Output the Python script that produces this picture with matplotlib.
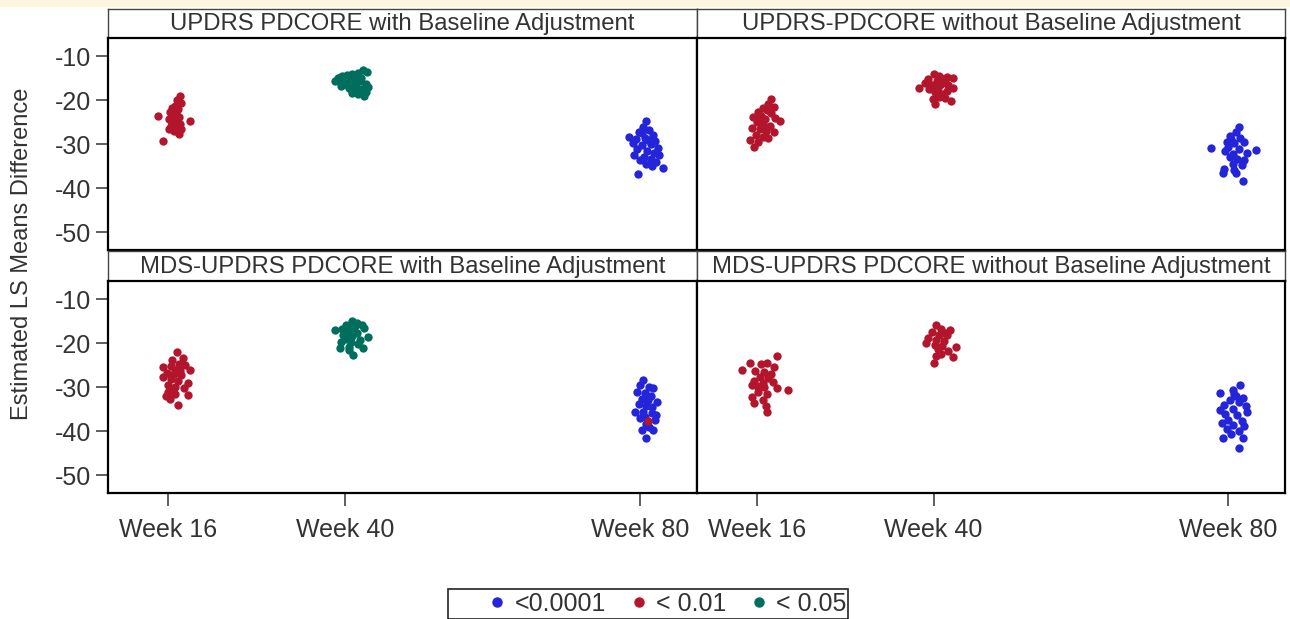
import matplotlib.pyplot as plt
from matplotlib.patches import Rectangle
from matplotlib.lines import Line2D

plt.rcParams['font.family'] = ['Liberation Sans', 'DejaVu Sans']
plt.rcParams['axes.unicode_minus'] = False

weeks = [16, 40, 80]
week_labels = ["Week 16", "Week 40", "Week 80"]
y_ticks = [-10, -20, -30, -40, -50]
titles = ["UPDRS PDCORE with Baseline Adjustment",
          "UPDRS-PDCORE without Baseline Adjustment",
          "MDS-UPDRS PDCORE with Baseline Adjustment",
          "MDS-UPDRS PDCORE without Baseline Adjustment"]
p_classes = ["<0.0001", "< 0.01", "< 0.05"]
p_colors = ["#2424d8", "#b3162c", "#006e5d"]

# UPDRS PDCORE, with baseline adjustment
ua16_x = [17.6, 17.3, 17.8, 17.0, 16.6, 17.4, 16.3, 17.1, 14.7, 16.8, 17.5, 16.2, 17.0,
          19.0, 16.6, 17.6, 16.4, 17.2, 17.8, 16.9, 17.5, 16.1, 17.0, 16.8, 15.3]
ua16_y = [-19.0, -20.0, -20.5, -21.2, -21.8, -22.0, -22.6, -23.0, -23.6, -23.4, -23.8, -24.2, -24.5,
          -24.8, -25.2, -25.3, -25.8, -26.2, -26.6, -27.0, -27.6, -26.5, -25.0, -22.5, -29.2]
ua40_x = [39.0, 39.6, 40.3, 41.0, 41.8, 42.5, 43.0, 42.2, 40.8, 39.8, 38.7, 40.0, 41.2, 42.0,
          42.8, 41.5, 40.5, 39.5, 42.3, 41.0, 42.8, 41.8, 42.6, 40.2, 41.3, 43.1, 40.9, 39.2]
ua40_y = [-15.0, -14.5, -14.2, -14.0, -13.8, -13.2, -13.6, -14.8, -15.2, -15.8, -15.6, -16.3, -16.0, -15.6,
          -16.2, -17.0, -17.2, -16.8, -17.5, -17.8, -18.0, -18.6, -19.0, -16.0, -15.1, -17.0, -18.3, -14.8]
ua80_x = [80.8, 80.4, 81.2, 79.9, 81.8, 78.5, 79.4, 80.6, 82.0, 79.0, 80.2, 81.4, 82.4, 79.6,
          80.9, 81.9, 79.2, 80.5, 82.6, 80.0, 81.4, 82.2, 80.8, 81.6, 83.1, 79.7, 81.0, 80.3]
ua80_y = [-24.8, -26.0, -26.8, -27.2, -27.8, -28.3, -28.7, -28.5, -29.3, -29.8, -30.2, -30.0, -30.8, -31.2,
          -31.6, -32.0, -32.5, -32.8, -32.4, -33.6, -33.3, -34.0, -34.6, -35.0, -35.4, -36.8, -29.0, -27.5]

# UPDRS-PDCORE, without baseline adjustment
un16_x = [18.0, 17.6, 18.3, 16.8, 17.4, 16.2, 17.9, 16.6, 15.5, 17.1, 18.5, 19.2, 16.0, 16.9,
          17.8, 15.4, 16.5, 17.3, 18.4, 15.9, 16.8, 17.6, 15.1, 16.2, 15.6, 17.0, 16.3]
un16_y = [-19.8, -20.8, -21.5, -21.8, -22.3, -22.6, -23.0, -23.5, -23.8, -24.2, -24.0, -24.8, -25.0, -25.5,
          -25.8, -26.2, -26.6, -27.0, -27.2, -27.8, -28.3, -28.5, -29.0, -29.4, -30.6, -26.0, -24.0]
un40_x = [40.0, 40.8, 41.8, 42.7, 39.2, 40.5, 41.5, 38.8, 39.8, 41.0, 42.0, 38.0,
          39.4, 40.6, 41.8, 42.6, 40.2, 41.2, 40.8, 39.9, 41.6, 42.4, 40.2, 41.0]
un40_y = [-13.9, -14.5, -14.6, -14.9, -15.2, -15.6, -15.3, -16.0, -16.4, -16.2, -16.5, -17.1,
          -17.4, -17.3, -17.8, -17.2, -18.2, -18.6, -19.2, -19.6, -19.4, -20.1, -20.8, -15.0]
un80_x = [81.4, 81.0, 80.2, 81.6, 79.8, 80.8, 82.2, 77.6, 80.0, 81.4, 83.7, 79.6, 80.6,
          82.6, 80.2, 81.2, 82.2, 80.6, 81.8, 79.4, 80.8, 79.3, 81.0, 82.0, 80.4]
un80_y = [-26.0, -27.3, -28.2, -28.5, -29.4, -29.8, -29.6, -30.8, -30.6, -31.0, -31.3, -31.6, -32.2,
          -32.0, -33.0, -33.4, -33.6, -34.4, -34.8, -35.6, -35.8, -36.5, -36.6, -38.4, -28.8]

# MDS-UPDRS PDCORE, with baseline adjustment
ma16_x = [17.2, 18.0, 16.6, 17.5, 15.3, 16.4, 18.4, 17.0, 19.0, 15.9, 16.8, 17.8, 15.4, 16.4,
          17.4, 18.7, 16.0, 17.0, 18.2, 16.6, 15.7, 17.0, 18.7, 16.3, 17.4, 16.0, 17.6]
ma16_y = [-22.0, -23.4, -23.8, -24.6, -25.5, -25.2, -25.0, -26.0, -26.1, -26.8, -27.0, -27.3, -27.7, -28.2,
          -28.6, -29.1, -29.5, -30.0, -30.2, -30.8, -32.0, -31.5, -31.8, -32.6, -34.1, -31.0, -26.4]
ma40_x = [40.9, 41.6, 40.2, 42.3, 38.6, 39.6, 41.0, 42.6, 40.4, 41.6, 39.8, 41.0,
          43.1, 40.2, 42.0, 39.4, 40.8, 41.8, 39.3, 40.6, 42.4, 41.1, 40.5, 41.4]
ma40_y = [-14.8, -15.4, -15.8, -15.8, -17.0, -16.8, -16.6, -16.4, -17.4, -17.6, -18.0, -18.4,
          -18.6, -19.0, -19.2, -19.6, -19.8, -20.2, -21.1, -20.8, -21.1, -22.7, -21.6, -16.0]
ma80_x = [80.4, 80.0, 81.2, 81.8, 79.6, 80.6, 81.4, 80.2, 81.0, 82.3, 79.8, 80.8, 81.6,
          79.3, 80.4, 81.6, 82.2, 80.6, 82.0, 80.8, 81.2, 80.3, 81.8, 80.8, 80.0]
ma80_y = [-28.4, -29.5, -30.0, -30.2, -31.1, -31.4, -32.0, -32.6, -33.0, -33.4, -33.8, -34.2, -34.6,
          -35.7, -35.6, -35.8, -36.4, -36.8, -37.5, -38.4, -39.0, -39.8, -39.8, -41.6, -37.0]
# one week 80 estimate in this panel falls in the < 0.01 class
ma80_odd_x = [81.0]
ma80_odd_y = [-37.7]

# MDS-UPDRS PDCORE, without baseline adjustment
mn16_x = [18.7, 15.1, 16.6, 17.4, 18.4, 14.0, 15.8, 17.0, 18.0, 16.4, 17.6, 15.6, 16.8,
          18.2, 15.4, 17.0, 18.7, 20.2, 16.2, 17.4, 15.3, 16.8, 15.7, 17.2, 17.4, 16.0]
mn16_y = [-23.0, -24.5, -24.8, -24.5, -25.3, -26.1, -26.4, -26.6, -27.0, -27.6, -28.0, -28.5, -29.0,
          -28.8, -29.6, -30.0, -30.2, -30.7, -31.2, -31.6, -32.2, -32.8, -33.6, -34.2, -35.6, -29.8]
mn40_x = [40.4, 41.0, 42.3, 39.8, 40.8, 41.8, 39.2, 40.4, 41.4, 39.0,
          40.2, 41.2, 43.0, 40.6, 42.0, 41.0, 42.7, 40.4, 40.0, 41.6]
mn40_y = [-15.9, -16.8, -17.0, -17.4, -18.0, -18.2, -18.8, -19.2, -19.4, -20.0,
          -20.4, -20.6, -20.9, -21.4, -21.8, -22.4, -23.2, -23.0, -24.5, -17.6]
mn80_x = [81.6, 80.7, 78.9, 81.0, 82.0, 80.2, 81.4, 79.4, 82.4, 78.9, 80.6, 82.6, 79.6,
          81.2, 80.0, 81.8, 79.2, 80.6, 82.2, 79.8, 81.4, 79.3, 82.0, 80.4, 81.4, 80.8]
mn80_y = [-29.5, -30.7, -31.4, -32.0, -32.4, -33.0, -33.4, -34.0, -34.2, -35.2, -35.0, -35.7, -36.2,
          -36.4, -37.4, -37.6, -38.2, -38.6, -38.8, -39.6, -40.0, -41.6, -41.6, -40.6, -43.9, -31.6]

# (x, y, p-value class index) for each cloud in each panel
panels = [
    [(ua16_x, ua16_y, 1), (ua40_x, ua40_y, 2), (ua80_x, ua80_y, 0)],
    [(un16_x, un16_y, 1), (un40_x, un40_y, 1), (un80_x, un80_y, 0)],
    [(ma16_x, ma16_y, 1), (ma40_x, ma40_y, 2), (ma80_x, ma80_y, 0), (ma80_odd_x, ma80_odd_y, 1)],
    [(mn16_x, mn16_y, 1), (mn40_x, mn40_y, 1), (mn80_x, mn80_y, 0)],
]

W, H = 1290, 619
fig = plt.figure(figsize=(W / 100, H / 100), dpi=100)
txt_color = "#333333"


def box(x0, y0, x1, y1):
    return [x0 / W, 1 - y1 / H, (x1 - x0) / W, (y1 - y0) / H]


# pale band along the top edge
fig.patches.append(Rectangle((0, 1 - 7 / H), 1, 7 / H, transform=fig.transFigure,
                             facecolor="#fdf5dd", edgecolor="none", zorder=0))

cols = [(108, 697), (697, 1285)]
rows = [(9, 38, 250), (251, 281, 493)]

for i, clouds in enumerate(panels):
    r, c = divmod(i, 2)
    x0, x1 = cols[c]
    s0, p0, p1 = rows[r]

    strip = fig.add_axes(box(x0, s0, x1, p0))
    strip.set_xticks([])
    strip.set_yticks([])
    for sp in strip.spines.values():
        sp.set_linewidth(1.0)
        sp.set_color("#444444")
    strip.text(0.5, 0.47, titles[i], ha="center", va="center", fontsize=17.2,
               color=txt_color, transform=strip.transAxes)

    ax = fig.add_axes(box(x0, p0, x1, p1))
    for xs, ys, k in clouds:
        ax.scatter(xs, ys, s=36, color=p_colors[k], linewidths=0, zorder=3)
    ax.set_xlim(7.9, 87.7)
    ax.set_ylim(-54.1, -5.8)
    for sp in ax.spines.values():
        sp.set_linewidth(1.6)
        sp.set_color("black")

    ax.tick_params(colors="#333333", labelcolor=txt_color, labelsize=18,
                   length=9, width=1.1)
    if c == 0:
        ax.set_yticks(y_ticks)
        ax.tick_params(axis="y", pad=3)
    else:
        ax.set_yticks([])
    if r == 1:
        ax.set_xticks(weeks)
        ax.set_xticklabels(week_labels)
        ax.tick_params(axis="x", pad=9)
    else:
        ax.set_xticks([])

fig.text(22 / W, 1 - 254 / H, "Estimated LS Means Difference", rotation=90,
         ha="center", va="center", fontsize=17, color=txt_color)

# legend: frame drawn separately so it can sit flush with the bottom edge
fig.patches.append(Rectangle(((448) / W, 0.5 / H), 400 / W, 30 / H, transform=fig.transFigure,
                             facecolor="white", edgecolor="#222222", linewidth=1.2))
handles = [Line2D([], [], marker="o", linestyle="none", markersize=6.5,
                  markerfacecolor=col, markeredgecolor=col) for col in p_colors]
fig.legend(handles, p_classes, loc="center", bbox_to_anchor=(667 / W, 1 - 604 / H),
           ncol=3, frameon=False, fontsize=18, handlelength=0.8, handletextpad=0.3,
           columnspacing=0.9, borderpad=0, labelcolor=txt_color)

fig.savefig("out.png", dpi=100)
